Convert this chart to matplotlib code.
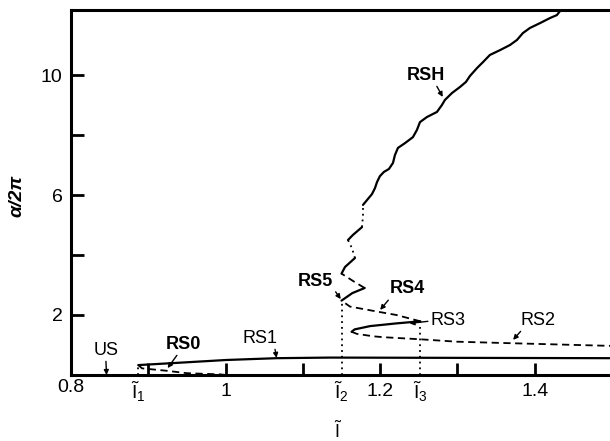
import numpy as np
import matplotlib
matplotlib.use('Agg')
import matplotlib.pyplot as plt

plt.rcParams['font.family'] = ['Liberation Sans', 'DejaVu Sans']
plt.rcParams['mathtext.fontset'] = 'custom'
plt.rcParams['mathtext.rm'] = 'Liberation Sans'
plt.rcParams['mathtext.it'] = 'Liberation Sans:italic'

# critical currents
I1, I2, I3 = 0.887, 1.150, 1.252

# branches (I, a/2pi)
rs0_I = [0.887, 0.892, 0.924, 0.950, 0.993, 1.0]
rs0_a = [0.33, 0.22, 0.14, 0.06, 0.02, 0.0]
rs1_I = [0.887, 0.941, 1.001, 1.066, 1.135, 1.5]
rs1_a = [0.33, 0.41, 0.50, 0.56, 0.58, 0.56]
rs2_I = [1.163, 1.170, 1.191, 1.204, 1.252, 1.299, 1.368, 1.484, 1.5]
rs2_a = [1.44, 1.37, 1.29, 1.26, 1.19, 1.11, 1.06, 0.98, 0.97]
rs3_I = [1.163, 1.167, 1.187, 1.221, 1.252]
rs3_a = [1.44, 1.52, 1.63, 1.72, 1.79]
rs4_I = [1.252, 1.221, 1.197, 1.161, 1.150]
rs4_a = [1.79, 2.00, 2.11, 2.28, 2.48]
rs5_I = [1.150, 1.164, 1.180]
rs5_a = [2.48, 2.73, 2.90]
link_I = [1.180, 1.167, 1.150]
link_a = [2.90, 3.10, 3.38]
rsh_I = [1.150, 1.1545, 1.1674, 1.1635, 1.1584, 1.1648, 1.1765, 1.1778, 1.1778,
         1.1842, 1.1894, 1.1933, 1.1959, 1.1997, 1.2049, 1.2114, 1.2166, 1.2191,
         1.2230, 1.2321, 1.2424, 1.2476, 1.2515, 1.2605, 1.2735, 1.2799, 1.2838,
         1.2929, 1.3032, 1.3110, 1.3162, 1.3252, 1.3330, 1.3420, 1.3550, 1.3679,
         1.3770, 1.3847, 1.3938, 1.4067, 1.4197, 1.4287, 1.4326, 1.4352]
rsh_a = [3.38, 3.60, 3.90, 4.23, 4.50, 4.67, 4.93, 5.30, 5.67,
         5.87, 6.03, 6.23, 6.43, 6.63, 6.77, 6.87, 7.07, 7.33,
         7.57, 7.73, 7.93, 8.17, 8.43, 8.60, 8.77, 9.00, 9.17,
         9.40, 9.60, 9.77, 9.97, 10.23, 10.43, 10.67, 10.83, 11.00,
         11.17, 11.40, 11.57, 11.73, 11.90, 12.00, 12.13, 12.17]
# (start, stop, style) index ranges along RSH
rsh_parts = [(0, 3, '-'), (2, 5, ':'), (4, 7, '-'), (6, 9, ':'), (8, len(rsh_I), '-')]

fig = plt.figure(figsize=(6.1, 4.41), dpi=100)
ax = fig.add_axes([0.1164, 0.1497, 0.8869, 0.8277])
ax.set_xlim(0.8, 1.5)
ax.set_ylim(0, 12.17)

solid = dict(color='k', lw=1.6, solid_capstyle='round', solid_joinstyle='round')
dash = dict(color='k', lw=1.3, ls=(0, (4, 2.5)))
dot = dict(color='k', lw=1.3, ls=(0, (1, 2.2)))

ax.plot(rs1_I, rs1_a, **solid)
ax.plot(rs0_I, rs0_a, **dash)
ax.plot(rs2_I, rs2_a, **dash)
ax.plot(rs3_I, rs3_a, **solid)
ax.plot(rs4_I, rs4_a, **dash)
ax.plot(rs5_I, rs5_a, **solid)
ax.plot(link_I, link_a, **dash)
for s, e, st in rsh_parts:
    ax.plot(rsh_I[s:e], rsh_a[s:e], **(solid if st == '-' else dot))

# dotted markers of the critical currents
ax.plot([I1, I1], [0, rs1_a[0]], **dot)
ax.plot([I2, I2], [0, rs4_a[-1]], **dot)
ax.plot([I3, I3], [0, rs3_a[-1]], **dot)

# labels with arrows
labels = [
    ('RSH', (1.281, 9.27), (1.259, 10.0), (0.75, 0), 'bold'),
    ('RS5', (1.149, 2.53), (1.116, 3.13), (1, 0.1), 'bold'),
    ('RS4', (1.200, 2.17), (1.235, 2.87), (0.05, 0.05), 'bold'),
    ('RS3', (1.238, 1.72), (1.288, 1.80), (0, 0.5), 'normal'),
    ('RS2', (1.372, 1.17), (1.404, 1.83), (0.1, 0.05), 'normal'),
    ('RS1', (1.066, 0.57), (1.045, 1.23), (0.9, 0.05), 'normal'),
    ('RS0', (0.925, 0.23), (0.945, 1.03), (0.4, 0.05), 'bold'),
    ('US', (0.846, 0.0), (0.845, 0.83), (0.5, 0.05), 'normal'),
]
for txt, tip, pos, rp, fw in labels:
    ax.annotate(txt, xy=tip, xytext=pos, ha='center', va='center',
                fontsize=13, fontweight=fw,
                arrowprops=dict(arrowstyle='-|>', color='k', lw=1,
                                mutation_scale=7, shrinkA=0, shrinkB=0,
                                relpos=rp))

# axes styling
for side in ['left', 'bottom', 'top']:
    ax.spines[side].set_linewidth(2.2)
ax.spines['right'].set_visible(False)

ax.set_yticks([2, 4, 6, 8, 10])
ax.set_yticklabels(['2', '', '6', '', '10'])
ax.tick_params(axis='y', direction='in', length=9, width=2, labelsize=14, pad=6)

ax.set_xticks([0.9, 1.0, 1.1, 1.2, 1.3, 1.4])
ax.set_xticklabels(['', '1', '', '1.2', '', '1.4'])
ax.set_xticks([0.8, I1, I2, I3], minor=True)
ax.set_xticklabels(['0.8', r'$\tilde{\mathrm{I}}_1$', r'$\tilde{\mathrm{I}}_2$',
                    r'$\tilde{\mathrm{I}}_3$'], minor=True)
ax.tick_params(axis='x', which='major', direction='in', length=9, width=2,
               labelsize=14, pad=6)
ax.tick_params(axis='x', which='minor', direction='in', length=0,
               labelsize=14, pad=3)
ax.tick_params(top=False, right=False, which='both')

ax.set_ylabel('α/2π', fontsize=14, fontweight='bold', style='italic')
ax.yaxis.set_label_coords(-0.085, 0.49)
ax.set_xlabel(r'$\tilde{\mathrm{I}}$', fontsize=13)
ax.xaxis.set_label_coords(0.4935, -0.125)

fig.savefig('out.png', dpi=100)
